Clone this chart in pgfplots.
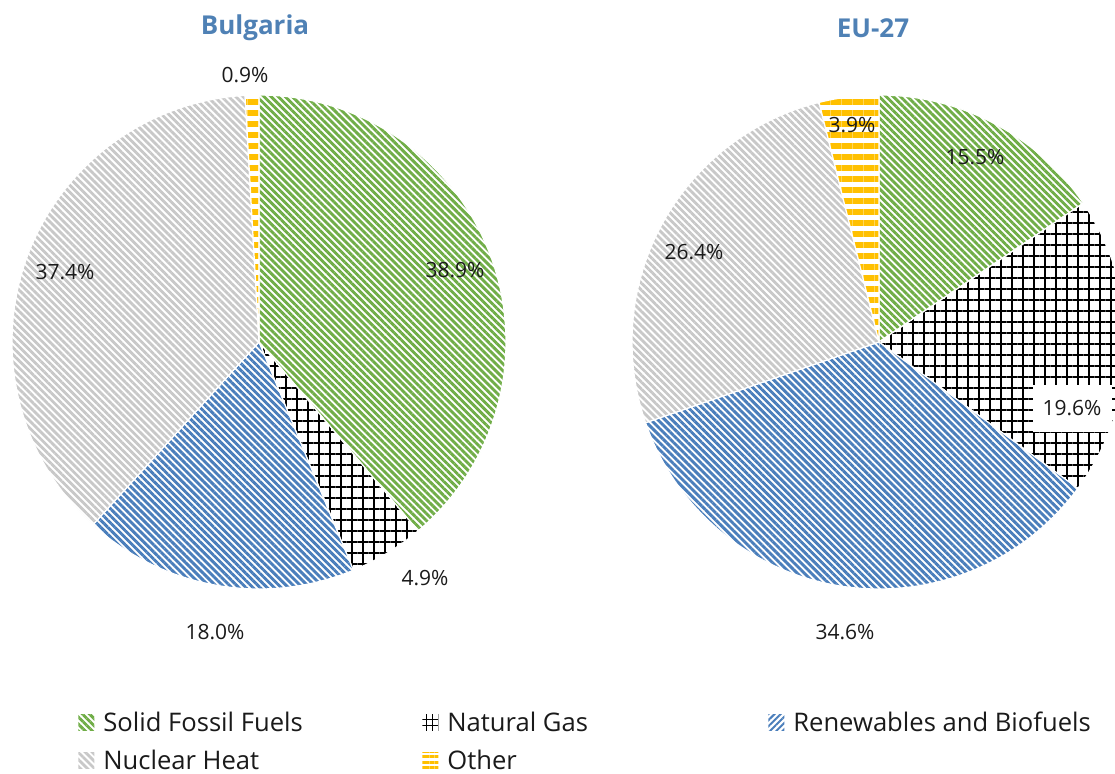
\documentclass[border=0pt]{standalone}
\usepackage{pgfplots}
\pgfplotsset{compat=1.18}
\usepackage{pgfplotstable}
\usetikzlibrary{patterns.meta}
\usepackage{fontspec}
\setmainfont{Open Sans}
\definecolor{sffc}{HTML}{70AD47}
\definecolor{rbc}{HTML}{4A7EBB}
\definecolor{nhc}{HTML}{C8C8C8}
\definecolor{otc}{HTML}{FFC000}
\definecolor{titc}{HTML}{4F81B5}
\definecolor{txtc}{HTML}{1A1A1A}

\pgfplotstableread{
src bg eu
SFF 38.9 15.5
NG 4.9 19.6
RB 18.0 34.6
NH 37.4 26.4
OT 0.9 3.9
}\sharetable

\newcommand\pieangles[2]{%
  \def\pietot{0}%
  \pgfplotsforeachungrouped \i in {0,...,4}{%
    \pgfplotstablegetelem{\i}{#1}\of\sharetable
    \pgfmathsetmacro\pietot{\pietot+\pgfplotsretval}}%
  \def\pieacc{0}%
  \pgfplotsforeachungrouped \i in {0,...,4}{%
    \pgfplotstablegetelem{\i}{#1}\of\sharetable
    \pgfmathsetmacro\pieA{90-360*(\pieacc/\pietot)}%
    \pgfmathsetmacro\pieacc{\pieacc+\pgfplotsretval}%
    \pgfmathsetmacro\pieB{90-360*(\pieacc/\pietot)}%
    \expandafter\xdef\csname #2s\i\endcsname{\pieA}%
    \expandafter\xdef\csname #2e\i\endcsname{\pieB}%
  }%
}
\pieangles{bg}{B}
\pieangles{eu}{E}

\tikzset{
  sff/.style={pattern={Lines[angle=-45,distance=2.5pt,line width=1.45pt]},pattern color=sffc},
  ng/.style={pattern={Hatch[distance=5.5pt,line width=1pt]},pattern color=black},
  rb/.style={pattern={Lines[angle=-45,distance=2.5pt,line width=1.45pt]},pattern color=rbc},
  nh/.style={pattern={Lines[angle=-45,distance=2.5pt,line width=1.4pt]},pattern color=nhc},
  ot/.style={pattern={Lines[angle=0,distance=5.5pt,line width=3.2pt]},pattern color=otc},
}
\newcommand\slice[5]{%
  \path[#1,draw=white,line width=0.6pt] (axis cs:#4,#5) -- ++(\csname #2s#3\endcsname:123.5pt)
    arc[start angle=\csname #2s#3\endcsname, end angle=\csname #2e#3\endcsname, radius=123.5pt] -- cycle;}

\begin{document}
\begin{tikzpicture}
\begin{axis}[name=ax,
  x=0.5pt, y=0.5pt, xmin=0, xmax=1115, ymin=0, ymax=773,
  scale only axis, hide axis, clip=true,
  legend columns=3,
  legend image code/.code={\path[#1,draw=none] (0pt,0.4pt) rectangle (8pt,8.4pt);},
  legend style={at={(axis description cs:0.0699,0.040)}, anchor=west,
    draw=none, fill=none, inner sep=0pt, font=\fontsize{12.8}{15}\selectfont,
    text=txtc, nodes={inner xsep=0pt, inner ysep=0pt, anchor=base west},
    row sep=7.5pt,
    /tikz/every odd column/.append style={column sep=4.5pt},
    /tikz/every even column/.append style={column sep=0pt}},
]
\addplot[draw=none, forget plot] coordinates {(0,0) (1115,773)};

\slice{sff}{B}{0}{259}{431}
\slice{ng}{B}{1}{259}{431}
\slice{rb}{B}{2}{259}{431}
\slice{nh}{B}{3}{259}{431}
\slice{ot}{B}{4}{259}{431}

\slice{sff}{E}{0}{879}{431}
\slice{ng}{E}{1}{879}{431}
\slice{rb}{E}{2}{879}{431}
\slice{nh}{E}{3}{879}{431}
\slice{ot}{E}{4}{879}{431}

\begin{scope}[every node/.style={font=\fontsize{10.5}{12}\selectfont, text=txtc, inner sep=1pt}]
\node at (axis cs:245,698) {0.9\%};
\node at (axis cs:455,503) {38.9\%};
\node at (axis cs:65,501) {37.4\%};
\node at (axis cs:425,195) {4.9\%};
\node at (axis cs:215,141) {18.0\%};
\node at (axis cs:852,648) {3.9\%};
\node at (axis cs:975,616) {15.5\%};
\node at (axis cs:694,521) {26.4\%};
\node[fill=white, minimum width=39.5pt, minimum height=23.5pt] at (axis cs:1072,365) {19.6\%};
\node at (axis cs:845,141) {34.6\%};
\end{scope}
\node[font=\fontsize{13}{15}\selectfont\bfseries, text=titc] at (axis cs:255,745) {Bulgaria};
\node[font=\fontsize{13}{15}\selectfont\bfseries, text=titc] at (axis cs:873,745) {EU-27};

\addlegendimage{sff}
\addlegendentry{\makebox[159.5pt][l]{Solid Fossil Fuels}}
\addlegendimage{pattern={Hatch[distance=3pt,line width=0.5pt]},pattern color=black}
\addlegendentry{\makebox[160.5pt][l]{Natural Gas}}
\addlegendimage{pattern={Lines[angle=45,distance=2.2pt,line width=1pt]},pattern color=rbc}
\addlegendentry{Renewables and Biofuels}
\addlegendimage{nh}
\addlegendentry{\makebox[159.5pt][l]{Nuclear Heat}}
\addlegendimage{pattern={Lines[angle=0,distance=2.7pt,line width=1.4pt]},pattern color=otc}
\addlegendentry{\makebox[160.5pt][l]{Other}}
\end{axis}
\pgfresetboundingbox
\path (ax.south west) rectangle (ax.north east);
\end{tikzpicture}
\end{document}
